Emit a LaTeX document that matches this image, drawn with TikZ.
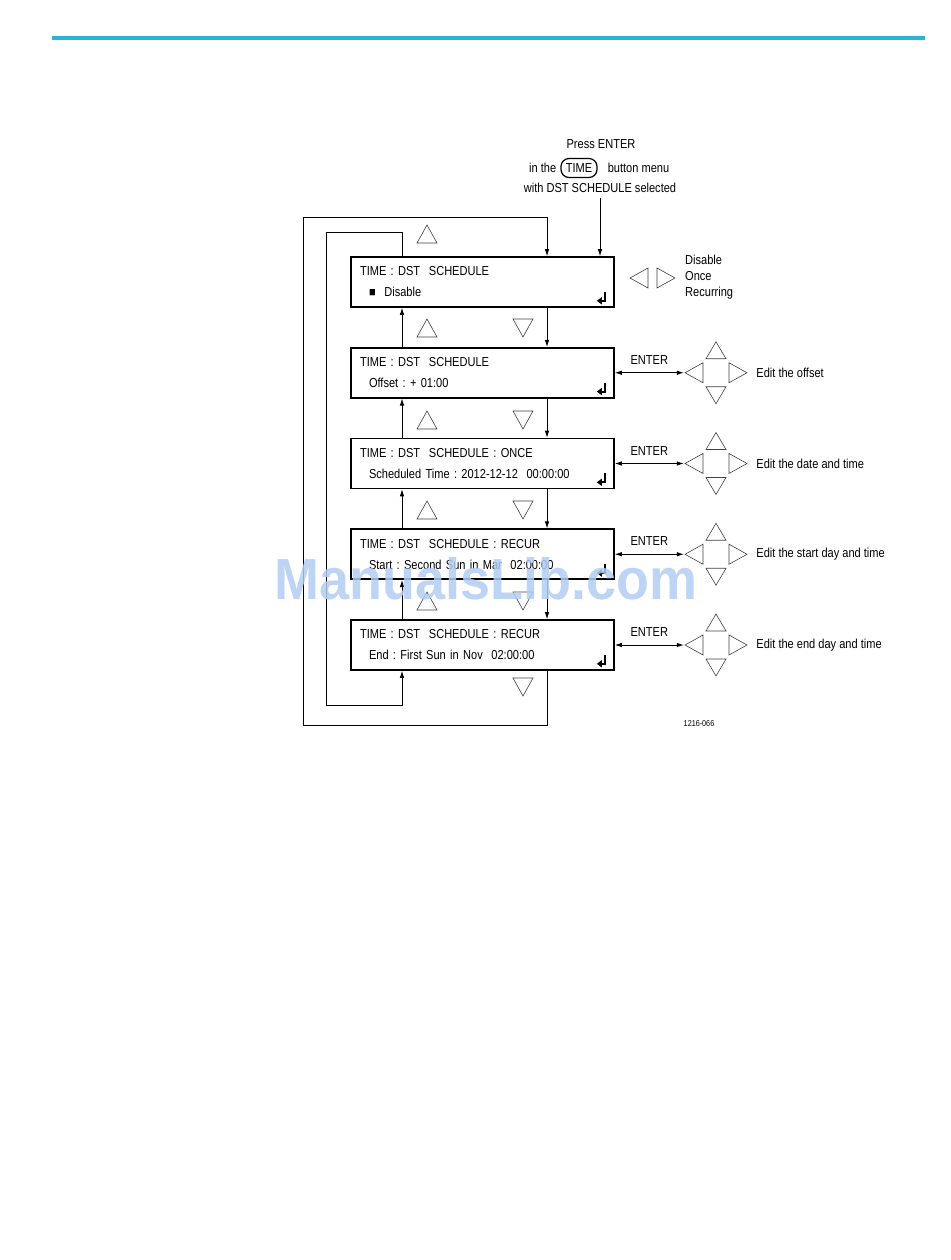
\documentclass[tikz,border=0pt]{standalone}
\usepackage{fontspec}
\setmainfont{Liberation Sans}[FakeStretch=0.85]
\newfontfamily\markfont{Liberation Sans}[FakeStretch=0.93]
\usetikzlibrary{positioning,calc,arrows.meta}
\definecolor{rulecyan}{RGB}{40,180,215}
\definecolor{markblue}{RGB}{178,204,242}
\tikzstyle{lcd}=[draw, line width=1.6pt, minimum width=263pt, minimum height=50pt, text width=245pt, inner xsep=9pt, inner ysep=0pt, align=left, font=\fontsize{13}{21}\selectfont]
\tikzstyle{lbl}=[font=\fontsize{13}{16}\selectfont, inner sep=2pt]
\tikzstyle{flow}=[line width=0.8pt, -{Latex[length=7pt,width=4.5pt]}]
\tikzstyle{dbl}=[line width=0.8pt, {Latex[length=7pt,width=4.5pt]}-{Latex[length=7pt,width=4.5pt]}]
\tikzstyle{tri}=[draw=black!75, line width=0.6pt]
\tikzstyle{pad}=[minimum size=64pt, inner sep=0pt]
\tikzset{
  tri up/.pic={\draw[tri] (-10,9) -- (10,9) -- (0,-9) -- cycle;},
  tri down/.pic={\draw[tri] (-10,-9) -- (10,-9) -- (0,9) -- cycle;},
  tri left/.pic={\draw[tri] (9,-10) -- (9,10) -- (-9,0) -- cycle;},
  tri right/.pic={\draw[tri] (-9,-10) -- (-9,10) -- (9,0) -- cycle;},
  keypad/.pic={
    \draw[tri] (-10,-14) -- (10,-14) -- (0,-31) -- cycle;
    \draw[tri] (-10,14) -- (10,14) -- (0,31) -- cycle;
    \draw[tri] (-13,-10) -- (-13,10) -- (-31,0) -- cycle;
    \draw[tri] (13,-10) -- (13,10) -- (31,0) -- cycle;},
  enterkey/.pic={\draw[line width=1.9pt, -{Triangle[length=5pt,width=7pt]}] (0,-9) -- (0,0) -- (-8,0);}
}

\begin{document}
\begin{tikzpicture}[x=1pt, y=-1pt, node distance=90.75pt]
	\useasboundingbox (0,0) rectangle (950,1260);
	\draw[rulecyan, line width=3.5pt] (52,38) -- (925,38);

	\node[lcd] (dis) at (482.5,282) {TIME~:~DST~~SCHEDULE\\\hspace*{9pt}■~~Disable};
	\node[lcd, on grid, below=of dis] (off) {TIME~:~DST~~SCHEDULE\\\hspace*{9pt}Offset~:~+~01:00};
	\node[lcd, on grid, below=of off] (once) {TIME~:~DST~~SCHEDULE~:~ONCE\\\hspace*{9pt}Scheduled~Time~:~2012-12-12~~00:00:00};
	\node[lcd, on grid, below=of once] (start) {TIME~:~DST~~SCHEDULE~:~RECUR\\\hspace*{9pt}Start~:~Second~Sun~in~Mar~~02:00:00};
	\node[lcd, on grid, below=of start] (end) {TIME~:~DST~~SCHEDULE~:~RECUR\\\hspace*{9pt}End~:~First~Sun~in~Nov~~02:00:00};
	\pic at ($(dis.south east)+(-10,-7)$) {enterkey};
	\pic at ($(off.south east)+(-10,-7)$) {enterkey};
	\pic at ($(once.south east)+(-10,-7)$) {enterkey};
	\pic at ($(start.south east)+(-10,-7)$) {enterkey};
	\pic at ($(end.south east)+(-10,-7)$) {enterkey};

	\coordinate (up) at (402,0);
	\coordinate (dn) at (547,0);
	\coordinate (ot) at (303,217);
	\coordinate (ob) at (303,725);
	\coordinate (it) at (326,232);
	\coordinate (ib) at (326,705);
	\draw[flow] (dis.south -| dn) -- (off.north -| dn);
	\draw[flow] (off.south -| dn) -- (once.north -| dn);
	\draw[flow] (once.south -| dn) -- (start.north -| dn);
	\draw[flow] (start.south -| dn) -- (end.north -| dn);
	\draw[flow] (off.north -| up) -- (dis.south -| up);
	\draw[flow] (once.north -| up) -- (off.south -| up);
	\draw[flow] (start.north -| up) -- (once.south -| up);
	\draw[flow] (end.north -| up) -- (start.south -| up);
	\draw[flow] (end.south -| dn) |- (ob) -- (ot) -| (dis.north -| dn);
	\draw[flow] (dis.north -| up) |- (it) -- (ib) -| (end.south -| up);

	\pic at (427,234) {tri up};
	\pic at (427,328) {tri up};
	\pic at (523,328) {tri down};
	\pic at (427,420) {tri up};
	\pic at (523,420) {tri down};
	\pic at (427,510) {tri up};
	\pic at (523,510) {tri down};
	\pic at (427,601) {tri up};
	\pic at (523,601) {tri down};
	\pic at (523,687) {tri down};

	\node[lbl] (press) at (601,144) {Press ENTER};
	\node[draw, rounded corners=8pt, line width=1.2pt, minimum width=36pt, minimum height=19pt, inner sep=0pt, font=\fontsize{13}{16}\selectfont] (timekey) at (579,168) {TIME};
	\node[lbl, left=2pt of timekey] (inthe) {in the};
	\node[lbl, right=8pt of timekey] (btnmenu) {button menu};
	\node[lbl] (withsel) at (600,188) {with DST SCHEDULE selected};
	\draw[flow, shorten <=3pt] (withsel.south) -- (dis.north -| withsel.south);

	\node[minimum width=45pt, minimum height=22pt, inner sep=0pt] (sel) at (652.5,278) {};
	\pic at (639,278) {tri left};
	\pic at (666,278) {tri right};
	\node[lbl, align=left, anchor=west] (modes) at (683,277) {Disable\\Once\\Recurring};

	\node[pad, on grid, right=233.5pt of off] (padoff) {};
	\node[pad, on grid, right=233.5pt of once] (padonce) {};
	\node[pad, on grid, right=233.5pt of start] (padstart) {};
	\node[pad, on grid, right=233.5pt of end] (padend) {};
	\pic at (padoff) {keypad};
	\pic at (padonce) {keypad};
	\pic at (padstart) {keypad};
	\pic at (padend) {keypad};
	\draw[dbl] (off.east) -- node[lbl, above=6pt] {ENTER} (padoff.west);
	\draw[dbl] (once.east) -- node[lbl, above=6pt] {ENTER} (padonce.west);
	\draw[dbl] (start.east) -- node[lbl, above=6pt] {ENTER} (padstart.west);
	\draw[dbl] (end.east) -- node[lbl, above=6pt] {ENTER} (padend.west);
	\node[lbl, right=6pt of padoff] (offtxt) {Edit the offset};
	\node[lbl, right=6pt of padonce] (oncetxt) {Edit the date and time};
	\node[lbl, right=6pt of padstart] (starttxt) {Edit the start day and time};
	\node[lbl, right=6pt of padend] (endtxt) {Edit the end day and time};

	\node[font=\fontsize{8.5}{10}\selectfont] (fignum) at (699,724) {1216-066};

	\node[text=markblue, opacity=0.85, font=\markfont\bfseries\fontsize{58}{60}\selectfont] (mark) at (486,579) {ManualsLib.com};
\end{tikzpicture}
\end{document}
